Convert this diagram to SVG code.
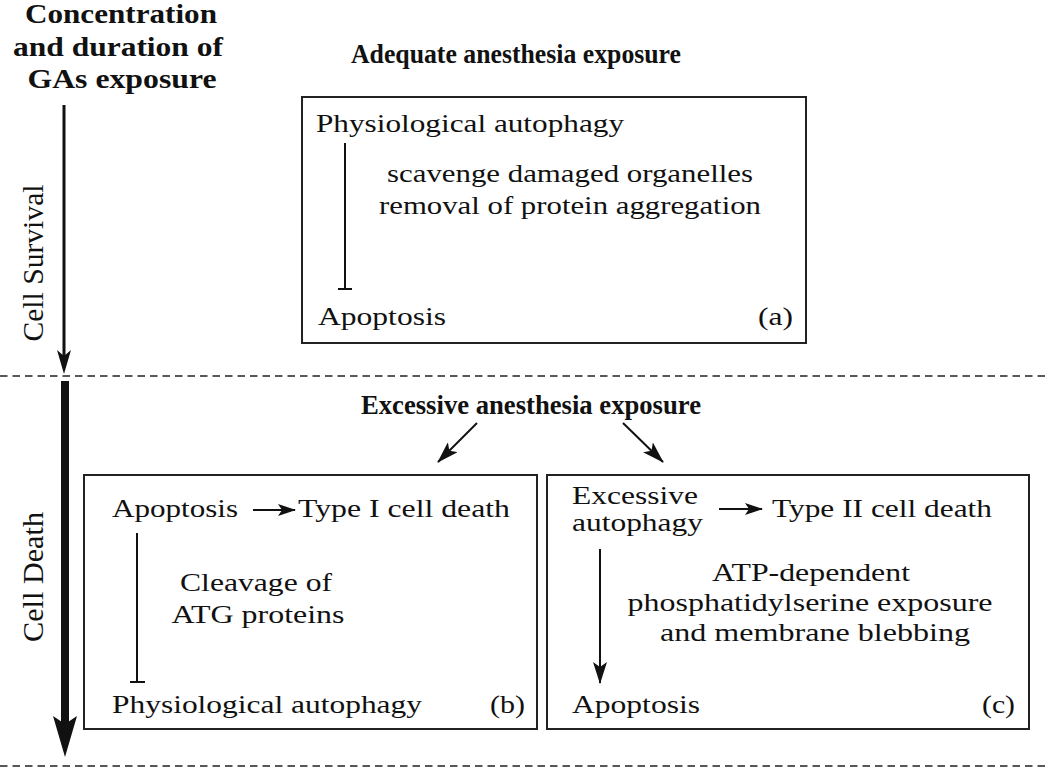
<svg xmlns="http://www.w3.org/2000/svg" width="1050" height="769" viewBox="0 0 1050 769" font-family="Liberation Serif, Times New Roman, serif">
<style>
text{font-family:'Liberation Serif','Times New Roman',Times,serif;fill:#111}
.b{font-weight:bold;font-size:27px}
.r{font-size:26px}
.rot{font-size:30px}
.box{fill:none;stroke:#222;stroke-width:2}
.ln{stroke:#111;stroke-width:2;fill:none}
.dash{stroke:#222;stroke-width:1.6;stroke-dasharray:7.5 5;fill:none}
.head{fill:#111}
</style>
<defs>
<marker id="sm" viewBox="0 0 18 12" refX="17" refY="6" markerWidth="18" markerHeight="12" markerUnits="userSpaceOnUse" orient="auto">
<path class="head" d="M0,0 L18,6 L0,12 L4,6 z"/>
</marker>
<marker id="md" viewBox="0 0 22 14" refX="21" refY="7" markerWidth="22" markerHeight="14" markerUnits="userSpaceOnUse" orient="auto">
<path class="head" d="M0,0 L22,7 L0,14 L5,7 z"/>
</marker>
</defs>

<g id="title">
<text class="b" x="121" y="23" text-anchor="middle" textLength="192" lengthAdjust="spacingAndGlyphs">Concentration</text>
<text class="b" x="118" y="56" text-anchor="middle" textLength="210" lengthAdjust="spacingAndGlyphs">and duration of</text>
<text class="b" x="122" y="88" text-anchor="middle" textLength="189" lengthAdjust="spacingAndGlyphs">GAs exposure</text>
</g>

<g id="axis">
<line class="dash" x1="0" y1="376" x2="1050" y2="376"/>
<line class="dash" x1="0" y1="766" x2="1050" y2="766"/>
<line x1="64" y1="105" x2="64" y2="360" stroke="#111" stroke-width="3"/>
<path class="head" d="M57,350 L64,374 L71,350 L64,356 z"/>
<text class="rot" transform="translate(43,263) rotate(-90)" text-anchor="middle" textLength="157" lengthAdjust="spacingAndGlyphs">Cell Survival</text>
<line x1="65" y1="381" x2="65" y2="726" stroke="#111" stroke-width="8"/>
<path class="head" d="M53,716 L65,757 L77,716 L65,724 z"/>
<text class="rot" transform="translate(43,577) rotate(-90)" text-anchor="middle" textLength="130" lengthAdjust="spacingAndGlyphs">Cell Death</text>
</g>

<g id="heading-a">
<text class="b" x="516" y="63" text-anchor="middle" textLength="330" lengthAdjust="spacingAndGlyphs">Adequate anesthesia exposure</text>
</g>

<g id="box-a">
<rect class="box" x="302" y="97" width="504" height="246"/>
<text class="r" x="316" y="132" textLength="308" lengthAdjust="spacingAndGlyphs">Physiological autophagy</text>
<text class="r" x="570" y="182" text-anchor="middle" textLength="366" lengthAdjust="spacingAndGlyphs">scavenge damaged organelles</text>
<text class="r" x="570" y="214" text-anchor="middle" textLength="382" lengthAdjust="spacingAndGlyphs">removal of protein aggregation</text>
<text class="r" x="318" y="325" textLength="128" lengthAdjust="spacingAndGlyphs">Apoptosis</text>
<text class="r" x="758" y="325" textLength="35" lengthAdjust="spacingAndGlyphs">(a)</text>
</g>

<g id="heading-b">
<text class="b" x="531" y="414" text-anchor="middle" textLength="340" lengthAdjust="spacingAndGlyphs">Excessive anesthesia exposure</text>
</g>

<g id="box-b">
<rect class="box" x="84" y="475" width="453" height="254"/>
<text class="r" x="112" y="517" textLength="126" lengthAdjust="spacingAndGlyphs">Apoptosis</text>
<text class="r" x="298" y="517" textLength="212" lengthAdjust="spacingAndGlyphs">Type I cell death</text>
<text class="r" x="256" y="591" text-anchor="middle" textLength="152" lengthAdjust="spacingAndGlyphs">Cleavage of</text>
<text class="r" x="258" y="623" text-anchor="middle" textLength="173" lengthAdjust="spacingAndGlyphs">ATG proteins</text>
<text class="r" x="112" y="713" textLength="310" lengthAdjust="spacingAndGlyphs">Physiological autophagy</text>
<text class="r" x="490" y="713" textLength="35" lengthAdjust="spacingAndGlyphs">(b)</text>
</g>

<g id="box-c">
<rect class="box" x="547" y="475" width="482" height="254"/>
<text class="r" x="572" y="504" textLength="126" lengthAdjust="spacingAndGlyphs">Excessive</text>
<text class="r" x="572" y="531" textLength="131" lengthAdjust="spacingAndGlyphs">autophagy</text>
<text class="r" x="772" y="517" textLength="220" lengthAdjust="spacingAndGlyphs">Type II cell death</text>
<text class="r" x="811" y="581" text-anchor="middle" textLength="198" lengthAdjust="spacingAndGlyphs">ATP-dependent</text>
<text class="r" x="810" y="611" text-anchor="middle" textLength="365" lengthAdjust="spacingAndGlyphs">phosphatidylserine exposure</text>
<text class="r" x="815" y="641" text-anchor="middle" textLength="310" lengthAdjust="spacingAndGlyphs">and membrane blebbing</text>
<text class="r" x="572" y="713" textLength="128" lengthAdjust="spacingAndGlyphs">Apoptosis</text>
<text class="r" x="982" y="713" textLength="33" lengthAdjust="spacingAndGlyphs">(c)</text>
</g>

<g id="connectors">
<line class="ln" x1="345" y1="143" x2="345" y2="289"/>
<line class="ln" x1="338" y1="289" x2="352" y2="289"/>
<line class="ln" x1="477" y1="423" x2="438" y2="462" marker-end="url(#md)"/>
<line class="ln" x1="623" y1="423" x2="663" y2="462" marker-end="url(#md)"/>
<line class="ln" x1="253" y1="510" x2="295" y2="510" marker-end="url(#sm)"/>
<line class="ln" x1="137" y1="533" x2="137" y2="682"/>
<line class="ln" x1="130" y1="682" x2="145" y2="682"/>
<line class="ln" x1="719" y1="509" x2="762" y2="509" marker-end="url(#sm)"/>
<line class="ln" x1="600" y1="549" x2="600" y2="683" marker-end="url(#md)"/>
</g>
</svg>
